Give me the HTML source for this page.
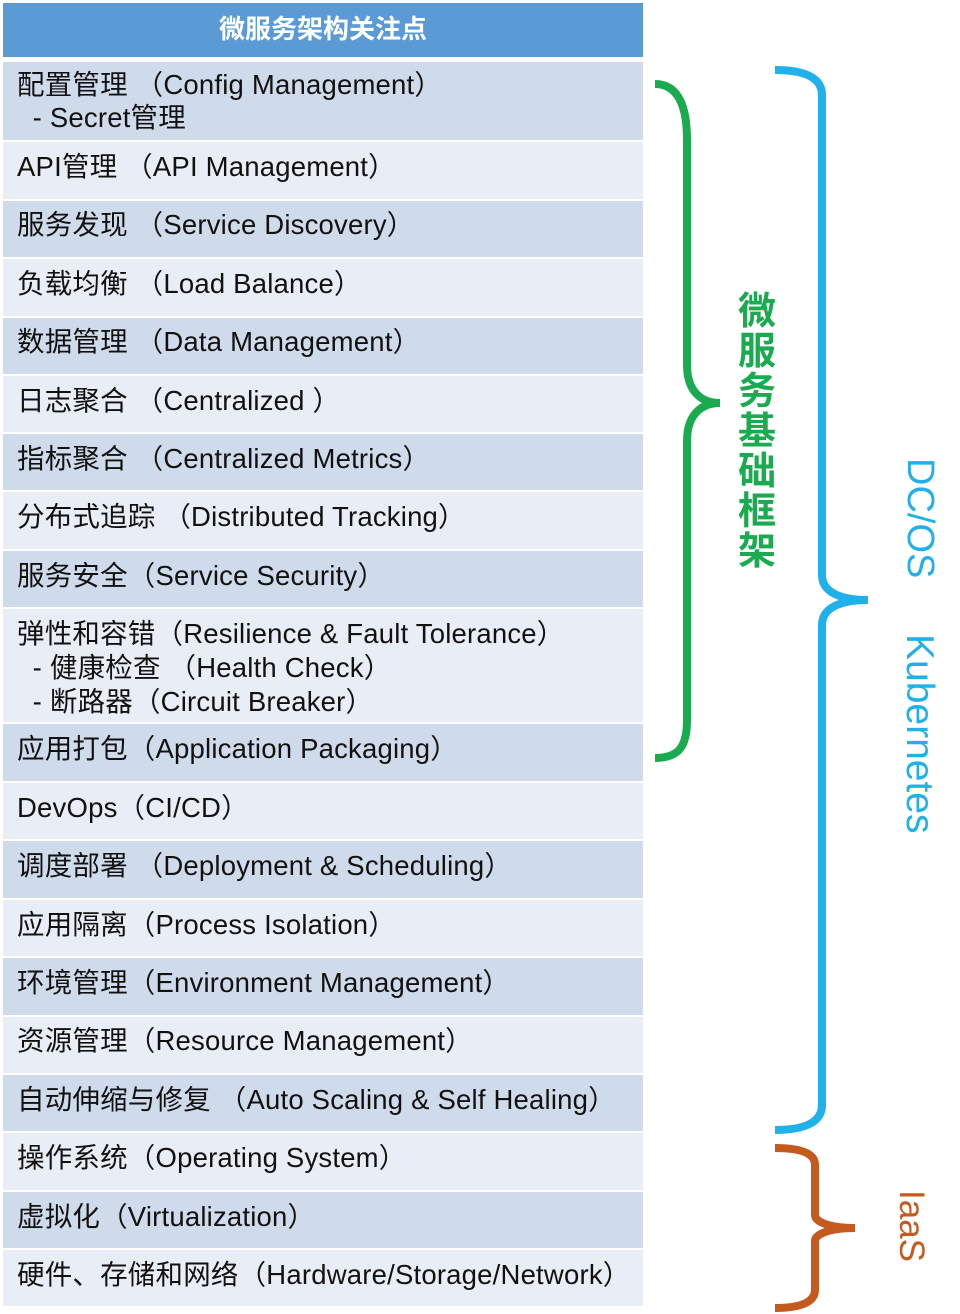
<!DOCTYPE html>
<html><head><meta charset="utf-8"><style>
body{margin:0;width:960px;height:1314px;background:#fff;position:relative;overflow:hidden;font-family:"Liberation Sans","Noto Sans CJK SC",sans-serif;}
.r{position:absolute;left:3px;width:640px;}
.d{background:#cfdbeb}.l{background:#e8edf6}
.t{position:absolute;left:17px;font-size:27.5px;letter-spacing:0.2px;line-height:34px;color:#111;white-space:pre;}
.v{position:absolute;writing-mode:vertical-rl;font-family:"Liberation Sans",sans-serif;}
</style></head><body>
<div class="r" style="top:3px;height:54px;background:#5b9bd5;color:#fff;font-weight:bold;font-size:26px;line-height:50px;text-align:center;font-family:'Noto Sans CJK SC',sans-serif">微服务架构关注点</div>
<div class="r d" style="top:62px;height:78px"></div>
<div class="r l" style="top:142px;height:57px"></div>
<div class="r d" style="top:201px;height:56px"></div>
<div class="r l" style="top:259px;height:57px"></div>
<div class="r d" style="top:318px;height:56px"></div>
<div class="r l" style="top:376px;height:56px"></div>
<div class="r d" style="top:434px;height:56px"></div>
<div class="r l" style="top:492px;height:57px"></div>
<div class="r d" style="top:551px;height:56px"></div>
<div class="r l" style="top:609px;height:113px"></div>
<div class="r d" style="top:724px;height:57px"></div>
<div class="r l" style="top:783px;height:56px"></div>
<div class="r d" style="top:841px;height:57px"></div>
<div class="r l" style="top:900px;height:56px"></div>
<div class="r d" style="top:958px;height:57px"></div>
<div class="r l" style="top:1017px;height:56px"></div>
<div class="r d" style="top:1075px;height:56px"></div>
<div class="r l" style="top:1133px;height:57px"></div>
<div class="r d" style="top:1192px;height:56px"></div>
<div class="r l" style="top:1250px;height:56px"></div>

<div class="t" style="top:68px">配置管理 （Config Management）</div>
<div class="t" style="top:101px">  - Secret管理</div>
<div class="t" style="top:150px">API管理 （API Management）</div>
<div class="t" style="top:208px">服务发现 （Service Discovery）</div>
<div class="t" style="top:267px">负载均衡 （Load Balance）</div>
<div class="t" style="top:325px">数据管理 （Data Management）</div>
<div class="t" style="top:384px">日志聚合 （Centralized ）</div>
<div class="t" style="top:442px">指标聚合 （Centralized Metrics）</div>
<div class="t" style="top:500px">分布式追踪 （Distributed Tracking）</div>
<div class="t" style="top:559px">服务安全（Service Security）</div>
<div class="t" style="top:617px">弹性和容错（Resilience &amp; Fault Tolerance）</div>
<div class="t" style="top:651px">  - 健康检查 （Health Check）</div>
<div class="t" style="top:685px">  - 断路器（Circuit Breaker）</div>
<div class="t" style="top:732px">应用打包（Application Packaging）</div>
<div class="t" style="top:791px">DevOps（CI/CD）</div>
<div class="t" style="top:849px">调度部署 （Deployment &amp; Scheduling）</div>
<div class="t" style="top:908px">应用隔离（Process Isolation）</div>
<div class="t" style="top:966px">环境管理（Environment Management）</div>
<div class="t" style="top:1024px">资源管理（Resource Management）</div>
<div class="t" style="top:1083px">自动伸缩与修复 （Auto Scaling &amp; Self Healing）</div>
<div class="t" style="top:1141px">操作系统（Operating System）</div>
<div class="t" style="top:1200px">虚拟化（Virtualization）</div>
<div class="t" style="top:1258px">硬件、存储和网络（Hardware/Storage/Network）</div>

<svg style="position:absolute;left:0;top:0" width="960" height="1314" fill="none" stroke-width="8">
<path stroke="#1aab50" d="M655,84 C680,84 687,110 687,140 L687,365 C687,390 700,403 720,403 C700,403 687,416 687,441 L687,720 C687,745 680,758 655,758"/>
<path stroke="#20b0ea" d="M775,70 C805,70 822,78 822,95 L822,575 C822,592 840,600 868,600 C840,600 822,608 822,625 L822,1105 C822,1122 805,1130 775,1130"/>
<path stroke="#c55a1f" d="M775,1148 C805,1148 815,1155 815,1165 L815,1215 C815,1222 830,1228 855,1228 C830,1228 815,1234 815,1241 L815,1290 C815,1300 805,1308 775,1308"/>
</svg>
<div style="position:absolute;left:737px;top:288px;width:40px;font-size:38px;line-height:40px;color:#1aab50;font-weight:bold;font-family:'Noto Sans CJK SC',sans-serif;text-align:center">微<br>服<br>务<br>基<br>础<br>框<br>架</div>
<div class="v" style="left:898px;top:458px;font-size:38px;color:#20b0ea">DC/OS</div>
<div class="v" style="left:897px;top:634px;font-size:39px;color:#20b0ea">Kubernetes</div>
<div class="v" style="left:891px;top:1190px;font-size:35px;color:#c55a1f">IaaS</div>
</body></html>
